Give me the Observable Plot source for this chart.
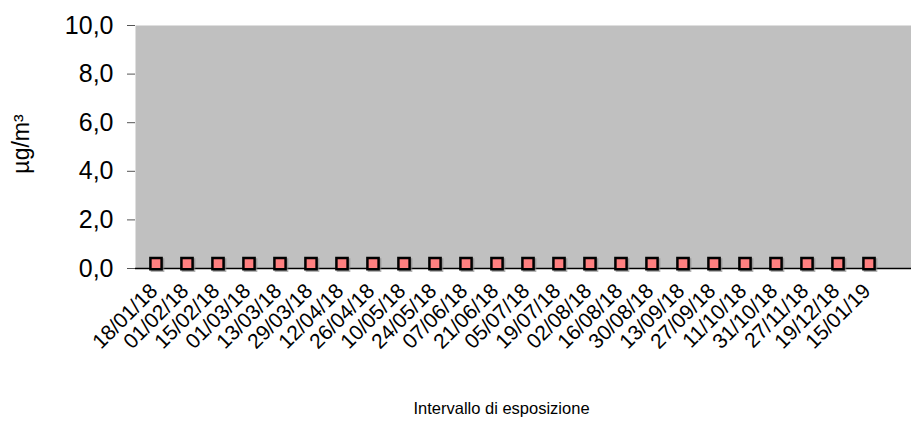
<!DOCTYPE html>
<html>
<head>
<meta charset="utf-8">
<script src="https://cdn.jsdelivr.net/npm/d3@7"></script>
<script src="https://cdn.jsdelivr.net/npm/@observablehq/plot@0.6"></script>
<style>
  html, body { margin: 0; padding: 0; background: #fff; }
  #chart svg { display: block; }
</style>
</head>
<body>
<div id="chart"></div>
<script>
const dates = ["18/01/18","01/02/18","15/02/18","01/03/18","13/03/18","29/03/18","12/04/18","26/04/18","10/05/18","24/05/18","07/06/18","21/06/18","05/07/18","19/07/18","02/08/18","16/08/18","30/08/18","13/09/18","27/09/18","11/10/18","31/10/18","27/11/18","19/12/18","15/01/19"];
const values = [0.2,0.2,0.2,0.2,0.2,0.2,0.2,0.2,0.2,0.2,0.2,0.2,0.2,0.2,0.2,0.2,0.2,0.2,0.2,0.2,0.2,0.2,0.2,0.2];
const yTicks = [0, 2, 4, 6, 8, 10];
const yTitle = "µg/m³";
const xTitle = "Intervallo di esposizione";

const data = dates.map((d, i) => ({date: d, value: values[i]}));
const font = "Liberation Sans, Arial, sans-serif";

const chart = Plot.plot({
  width: 911,
  height: 429,
  marginLeft: 135,
  marginRight: 0,
  marginTop: 25,
  marginBottom: 161,
  style: {fontFamily: font, background: "#fff"},
  x: {type: "band", domain: dates, padding: 0, insetLeft: 1, insetRight: 24},
  y: {domain: [0, 10]},
  marks: [
    Plot.frame({fill: "#C0C0C0", stroke: null}),
    Plot.axisY({ticks: yTicks, tickFormat: d => d.toFixed(1).replace(".", ","), tickSize: 8, tickPadding: 14, fontSize: 25, stroke: "#555", label: null}),
    Plot.axisX({tickRotate: -45, tickSize: 0, tickPadding: 10, fontSize: 21, label: null, dx: -2, dy: 9}),
    Plot.ruleX([0], {frameAnchor: "left", stroke: "#000", strokeWidth: 1.2}),
    Plot.ruleY([0], {stroke: "#000", strokeWidth: 1.5}),
    Plot.dot(data, {x: "date", y: "value", symbol: "square", r: 6.3, fill: "#808080", stroke: "#808080", strokeWidth: 2.5, dx: 1.5, dy: 1.5, fillOpacity: 0.6, strokeOpacity: 0.6}),
    Plot.dot(data, {x: "date", y: "value", symbol: "square", r: 6.3, fill: "#FF8080", stroke: "#000", strokeWidth: 2.5}),
    Plot.text([yTitle], {frameAnchor: "left", rotate: -90, textAnchor: "middle", dx: -114, dy: -3, fontSize: 23, fill: "#000"}),
    Plot.text([xTitle], {frameAnchor: "bottom", dx: -22, dy: 145, fontSize: 16.5, fill: "#000"})
  ]
});
document.getElementById("chart").appendChild(chart);
</script>
</body>
</html>
